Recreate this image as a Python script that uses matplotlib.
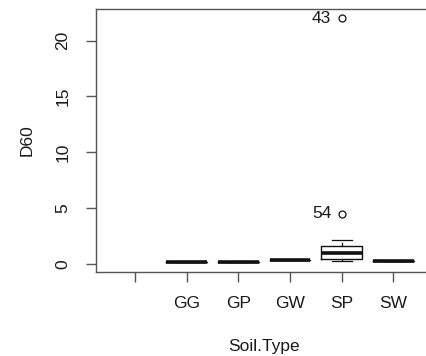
import matplotlib
matplotlib.use("Agg")
import matplotlib.pyplot as plt

plt.rcParams['font.family'] = ['Liberation Sans', 'DejaVu Sans']

# Soil types (the first level is an empty category with no observations)
categories = ["", "GG", "GP", "GW", "SP", "SW"]

# Five-number summaries of D60 per soil type
medians = [None, 0.15, 0.20, 0.36, 0.98, 0.30]
q1s = [None, 0.15, 0.20, 0.36, 0.42, 0.30]
q3s = [None, 0.15, 0.20, 0.36, 1.62, 0.30]
whisker_lo = [None, 0.15, 0.20, 0.36, 0.30, 0.30]
whisker_hi = [None, 0.15, 0.20, 0.36, 2.15, 0.30]

# Outliers with their observation numbers
outlier_group = ["SP", "SP"]
outlier_values = [22.0, 4.5]
outlier_ids = ["43", "54"]

fig = plt.figure(figsize=(4.27, 3.56), dpi=100)
W, H = 427, 356
ax = fig.add_axes([96.3 / W, (H - 272) / H, (432 - 96.3) / W, (272 - 8.7) / H])

axis_color = "#555555"
text_color = "#1a1a1a"
fs = 12.5

stats = []
positions = []
for i, cat in enumerate(categories):
    if medians[i] is None:
        continue
    fl = [v for g, v in zip(outlier_group, outlier_values) if g == cat]
    stats.append(dict(med=medians[i], q1=q1s[i], q3=q3s[i],
                      whislo=whisker_lo[i], whishi=whisker_hi[i], fliers=fl))
    positions.append(i + 1)

ax.bxp(stats, positions=positions, widths=0.79,
       boxprops=dict(color="#111111", linewidth=1.0),
       medianprops=dict(color="#111111", linewidth=2.6, solid_capstyle="butt"),
       whiskerprops=dict(color="#111111", linewidth=0.9, linestyle=(0, (3, 2))),
       capprops=dict(color="#111111", linewidth=0.9),
       capwidths=0.39,
       flierprops=dict(marker="o", markersize=5.0, markerfacecolor="none",
                       markeredgecolor="#111111", markeredgewidth=0.9))

for g, v, lab in zip(outlier_group, outlier_values, outlier_ids):
    xi = categories.index(g) + 1
    ax.annotate(lab, (xi, v), xytext=(-7.5, 0), textcoords="offset points",
                ha="right", va="center", fontsize=fs, color=text_color)

ax.set_xlim(0.251, 1 + (432 - 135) / 51.67)
ax.set_ylim(-0.72, 22.86)

ax.set_xticks(range(1, len(categories) + 1))
ax.set_xticklabels(categories)
ax.set_yticks([0, 5, 10, 15, 20])
ax.set_yticklabels(["0", "5", "10", "15", "20"], rotation=90, va="center")

for s in ax.spines.values():
    s.set_color(axis_color)
    s.set_linewidth(1.0)

ax.tick_params(axis="both", colors=axis_color, labelcolor=text_color,
               length=7, width=1.0, labelsize=fs)
ax.tick_params(axis="x", pad=10.5)
ax.tick_params(axis="y", pad=11.5)

ax.set_xlabel("Soil.Type", fontsize=fs, color=text_color, labelpad=20)
ax.set_ylabel("D60", fontsize=fs, color=text_color, labelpad=15)

fig.savefig("out.png", dpi=100)
